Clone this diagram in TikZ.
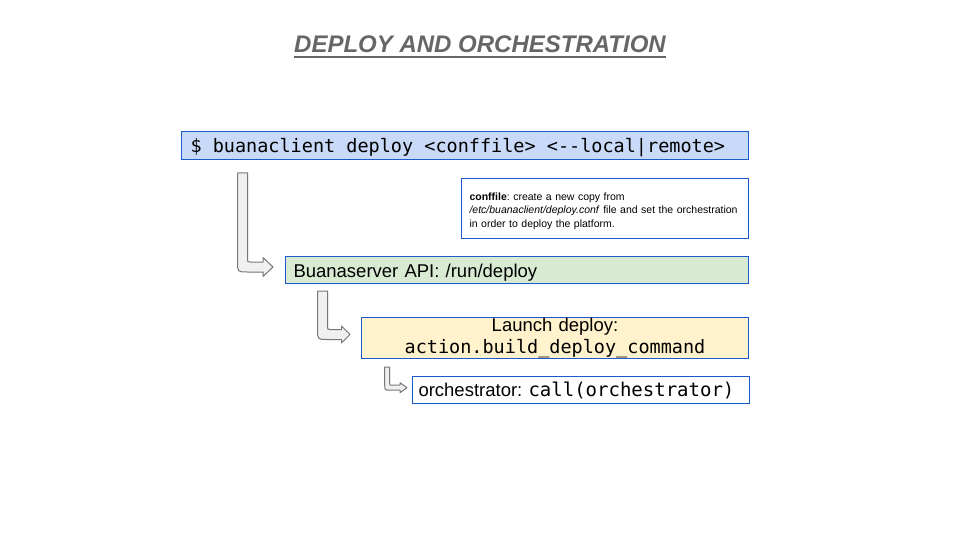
\documentclass[tikz,border=0pt]{standalone}
\usepackage{fontspec}
\setmainfont{Liberation Sans}
\setmonofont{DejaVu Sans Mono}
\definecolor{bordblue}{HTML}{1A5ACD}
\definecolor{fillblue}{HTML}{C9DAF8}
\definecolor{fillgreen}{HTML}{D9EAD3}
\definecolor{fillyellow}{HTML}{FFF2CC}
\definecolor{titlegray}{HTML}{666666}
\definecolor{arrowgray}{HTML}{777777}
\definecolor{arrowfill}{HTML}{F0F0F0}
\newcommand{\bigfont}{\fontsize{18.5}{22}\selectfont\frenchspacing}
\newcommand{\ms}{\phantom{x}}
% bent block arrow: xl, top, w, yc, xb, h, xt, R, r
\newcommand{\bentarrow}[9]{%
  \pgfmathsetmacro{\xr}{#1+#3}%
  \pgfmathsetmacro{\yb}{#4+#3/2}%
  \pgfmathsetmacro{\yt}{#4-#3/2}%
  \draw[blockarrow] (#1,#2) -- (#1,\yb-#8) .. controls (#1,\yb) .. (#1+#8,\yb)
    -- (#5,\yb) -- (#5,#4+#6) -- (#7,#4) -- (#5,#4-#6) -- (#5,\yt)
    -- (\xr+#9,\yt) .. controls (\xr,\yt) .. (\xr,\yt-#9) -- (\xr,#2) -- cycle;}
\begin{document}
\begin{tikzpicture}[x=1pt,y=-1pt,
  box/.style={draw=bordblue, line width=1pt, anchor=north west, inner ysep=0pt,
    align=left, font=\bigfont},
  blockarrow/.style={draw=arrowgray, fill=arrowfill, line width=1pt, line join=round}]
\useasboundingbox[fill=white] (0,0) rectangle (960,540);

% title
\node[inner sep=0pt, anchor=base, font=\fontsize{24}{28}\selectfont\bfseries\itshape, text=titlegray]
  (title) at (480,52.7) {DEPLOY AND ORCHESTRATION};
\draw[titlegray, line width=1.6pt] ([yshift=-4.3pt]title.base west) -- ([yshift=-4.3pt]title.base east);

% boxes
\node[box, fill=fillblue, inner xsep=9pt, text width=549pt, minimum height=28pt,
  text height=16pt, text depth=1.4pt]
  (cmd) at (181,131) {\ttfamily \$\ms buanaclient\ms deploy\ms <conffile>\ms <-{}-local|remote>};

\node[box, fill=white, inner xsep=8pt, text width=271pt, minimum height=60pt,
  font=\fontsize{10.5}{13.4}\selectfont\frenchspacing]
  (note) at (461,178) {\rule{0pt}{12.5pt}\textbf{conffile}: create a new copy from\\
  \textit{/etc/buanaclient/deploy.conf} file and set the orchestration\\
  in order to deploy the platform.};

\node[box, fill=fillgreen, inner xsep=8pt, text width=447pt, minimum height=27pt,
  text height=15pt, text depth=0.6pt]
  (api) at (285,256) {Buanaserver API: /run/deploy};

\node[box, fill=fillyellow, inner xsep=8pt, text width=371pt, minimum height=41pt,
  align=center]
  (launch) at (361,317) {Launch deploy:\\ \ttfamily action.build\_deploy\_command};

\node[box, fill=white, inner xsep=6pt, text width=325pt, minimum height=27pt]
  (orch) at (412,376) {orchestrator: \texttt{\fontsize{19}{22}\selectfont call(orchestrator)}};

% bent arrows
\bentarrow{237.5}{173}{10}{267}{263}{9.5}{273}{10}{3}
\bentarrow{317.5}{291}{10}{334.5}{341.5}{8.5}{350}{10}{3}
\bentarrow{384.7}{367}{5}{387.7}{400}{5}{407}{6}{2}
\end{tikzpicture}
\end{document}
